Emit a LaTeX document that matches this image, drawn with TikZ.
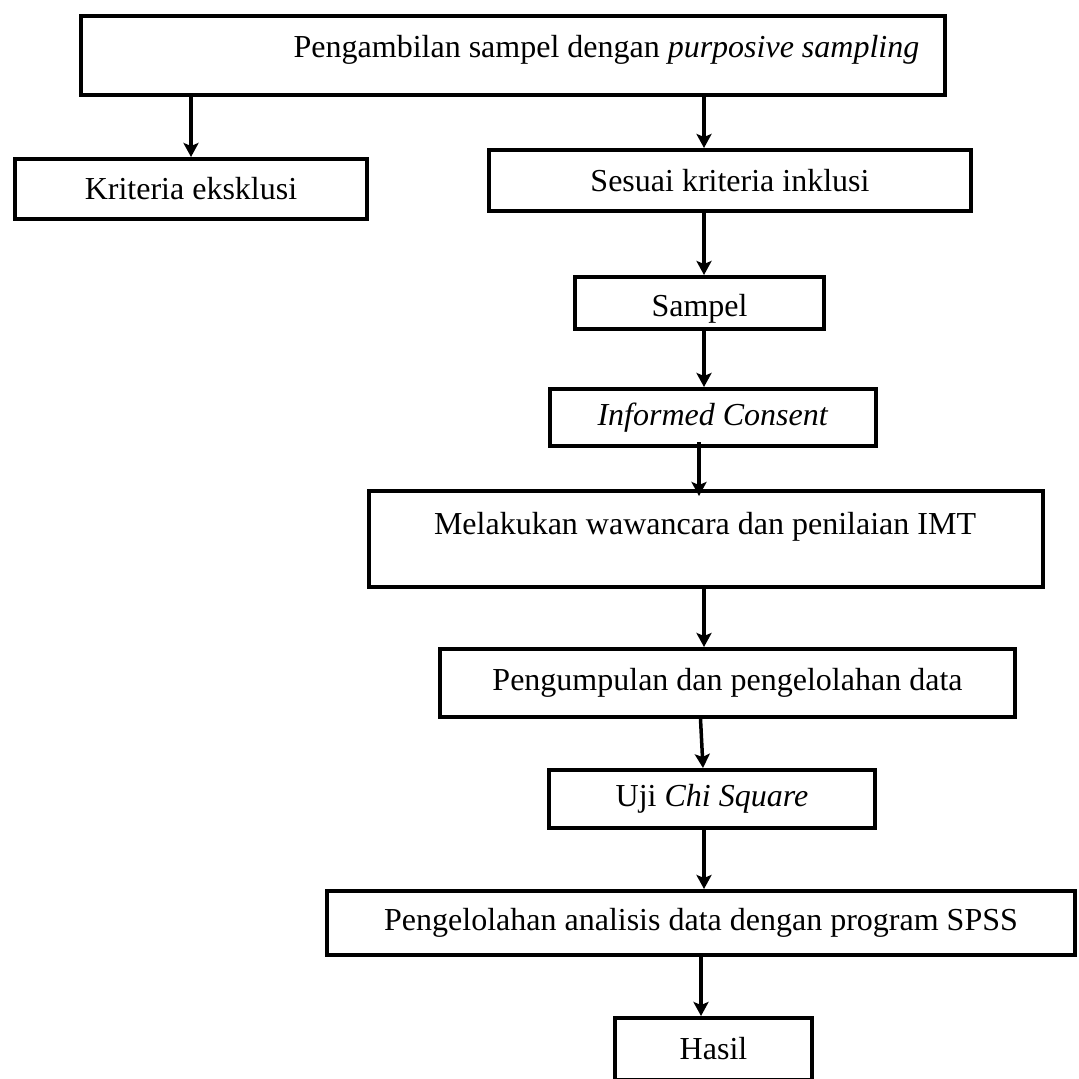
\documentclass[tikz,border=0pt]{standalone}
\usepackage{fontspec}
\setmainfont{Liberation Serif}
\usetikzlibrary{arrows.meta}
\usetikzlibrary{calc}
\tikzset{txt/.style = {inner sep = 0, font = \fontsize{16}{19}\selectfont}}
\tikzset{box/.style = {txt, draw, line width = 2pt}}
\tikzset{flow/.style = {-{Stealth[length=7pt,width=7.5pt,inset=1.5pt]}, line width = 1.75pt}}

\begin{document}
\begin{tikzpicture}[x=0.5pt,y=-0.5pt]
        \useasboundingbox (0,0) rectangle (1078,1079);
        \clip (0,0) rectangle (1078,1079);
        \coordinate (axis) at (704,0);
        \node [box, minimum width=432pt, minimum height=39.5pt, label={[txt, shift={(93.5,-5.5)}]center:Pengambilan sampel dengan \textit{purposive sampling}}] (ambil) at (513,55.5) {};
        \node [box, minimum width=176pt, minimum height=30pt] (kriteria) at (191,189) {Kriteria eksklusi};
        \node [box, minimum width=241pt, minimum height=30.5pt] (inklusi) at (730,180.5) {Sesuai kriteria inklusi};
        \node [box, minimum width=124.5pt, minimum height=26pt, label={[txt, shift={(0,6)}]center:Sampel}] (sampel) at (699.5,303) {};
        \node [box, minimum width=163pt, minimum height=28.5pt] (consent) at (713,417.5) {\textit{Informed Consent}};
        \node [box, minimum width=337pt, minimum height=48pt, label={[txt, shift={(-1,-12)}]center:Melakukan wawancara dan penilaian IMT}] (wawancara) at (706,539) {};
        \node [box, minimum width=287.5pt, minimum height=34pt] (kumpul) at (727.5,683) {Pengumpulan dan pengelolahan data};
        \node [box, minimum width=163pt, minimum height=29pt] (uji) at (712,799) {Uji \textit{Chi Square}};
        \node [box, minimum width=374pt, minimum height=32pt] (spss) at (701,923) {Pengelolahan analisis data dengan program SPSS};
        \node [box, minimum width=98.5pt, minimum height=31pt] (hasil) at (713.5,1049) {Hasil};
        \coordinate (turun) at ($(consent.south)+(-14,0)$);
        \draw [flow] (kriteria.north |- ambil.south) -- (kriteria.north);
        \draw [flow] (ambil.south -| axis) -- (inklusi.north -| axis);
        \draw [flow] (inklusi.south -| axis) -- (sampel.north -| axis);
        \draw [flow, shorten <=-1.5pt] (sampel.south -| axis) -- (consent.north -| axis);
        \draw [flow, shorten <=-3pt, shorten >=-3.5pt] (turun) -- (turun |- wawancara.north);
        \draw [flow] (wawancara.south -| axis) -- (kumpul.north -| axis);
        \draw [flow] ($(kumpul.south)+(-27,0)$) -- ($(uji.north)+(-9,0)$);
        \draw [flow] (uji.south -| axis) -- (spss.north -| axis);
        \draw [flow] (spss.south) -- (spss.south |- hasil.north);
    \end{tikzpicture}
\end{document}
